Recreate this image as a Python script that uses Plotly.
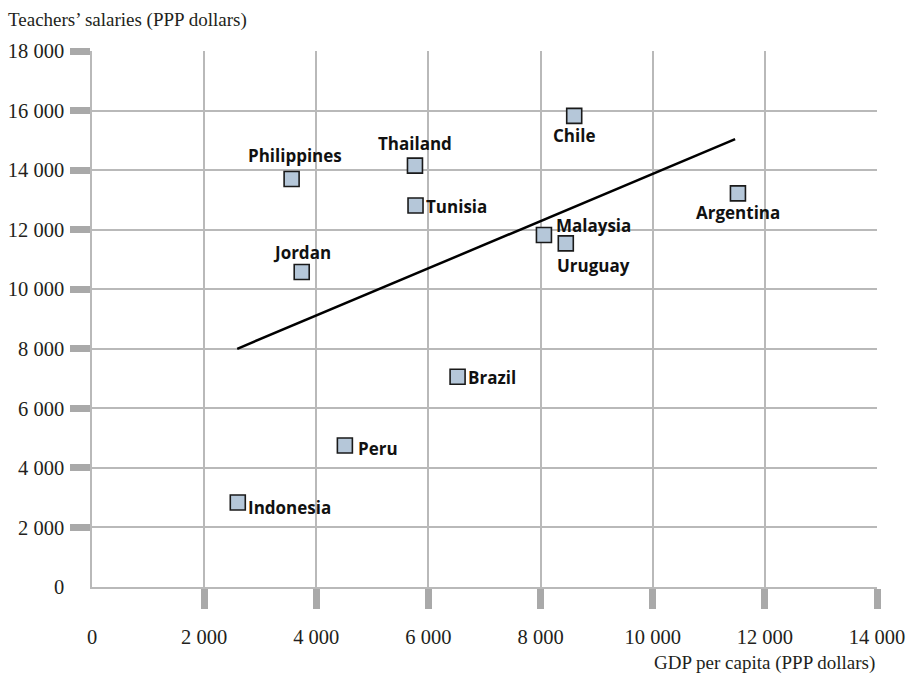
import plotly.graph_objects as go

# ---- data ----
countries = ["Philippines", "Thailand", "Tunisia", "Jordan", "Chile", "Argentina",
             "Malaysia", "Uruguay", "Brazil", "Peru", "Indonesia"]
gdp_per_capita = [3560, 5760, 5770, 3740, 8600, 11520, 8060, 8450, 6520, 4510, 2600]
teacher_salary = [13700, 14150, 12810, 10580, 15820, 13220, 11820, 11540, 7060, 4750, 2840]

trend_gdp = [2590, 11470]
trend_salary = [8000, 15040]

x_tick_vals = [0, 2000, 4000, 6000, 8000, 10000, 12000, 14000]
x_tick_text = ["0", "2 000", "4 000", "6 000", "8 000", "10 000", "12 000", "14 000"]
y_tick_vals = [0, 2000, 4000, 6000, 8000, 10000, 12000, 14000, 16000, 18000]
y_tick_text = ["0", "2 000", "4 000", "6 000", "8 000", "10 000", "12 000", "14 000", "16 000", "18 000"]

# label placement style: (xanchor, xshift, yshift)
label_style = {
    "Philippines": ("center", 3, 24),
    "Thailand": ("center", 0, 22),
    "Tunisia": ("left", 9, -1),
    "Jordan": ("center", 0, 19),
    "Chile": ("center", 0, -20),
    "Argentina": ("center", 0, -19),
    "Malaysia": ("left", 11, 10),
    "Uruguay": ("left", -10, -22),
    "Brazil": ("left", 9, -1),
    "Peru": ("left", 12, -3),
    "Indonesia": ("left", 9, -5),
}

TEXT = "#231f20"
GRID = "#b9b9b9"
TICK = "#a9a9a9"
SERIF = "Liberation Serif"

fig = go.Figure()
fig.add_trace(go.Scatter(
    x=trend_gdp, y=trend_salary, mode="lines",
    line=dict(color="black", width=2.5), showlegend=False, hoverinfo="skip"))
fig.add_trace(go.Scatter(
    x=gdp_per_capita, y=teacher_salary, mode="markers", text=countries,
    marker=dict(symbol="square", size=15, color="#b5c7d9",
                line=dict(color="#1a1a1a", width=1.6)),
    showlegend=False))

for name, gx, sy in zip(countries, gdp_per_capita, teacher_salary):
    xa, xs, ys = label_style[name]
    fig.add_annotation(x=gx, y=sy, text="<b>" + name + "</b>", showarrow=False,
                       xanchor=xa, yanchor="middle", xshift=xs, yshift=ys,
                       font=dict(family="Open Sans", size=17, color="#111"),
                       borderpad=0)

fig.add_annotation(xref="paper", yref="paper", x=-86/785, y=1 + 31/536,
                   text="Teachers’ salaries (PPP dollars)", showarrow=False,
                   xanchor="left", yanchor="middle",
                   font=dict(family=SERIF, size=19, color=TEXT))
fig.add_annotation(xref="paper", yref="paper", x=1, y=-76/536,
                   text="GDP per capita (PPP dollars)", showarrow=False,
                   xanchor="right", yanchor="middle",
                   font=dict(family=SERIF, size=19, color=TEXT))

fig.update_layout(
    width=910, height=685,
    margin=dict(l=92, r=33, t=51, b=98, autoexpand=False),
    paper_bgcolor="white", plot_bgcolor="white",
    xaxis=dict(range=[0, 14000], tickmode="array", tickvals=x_tick_vals, ticktext=x_tick_text,
               ticks="", showgrid=True, gridcolor=GRID, gridwidth=1.5, automargin=False,
               showline=True, linecolor=GRID, linewidth=1.5, zeroline=False,
               ticklabelstandoff=31,
               tickfont=dict(family=SERIF, size=20.5, color=TEXT),
               minor=dict(tickmode="array", tickvals=x_tick_vals[1:], ticks="outside",
                          ticklen=20, tickwidth=7, tickcolor=TICK, showgrid=False)),
    yaxis=dict(range=[0, 18000], tickmode="array", tickvals=y_tick_vals, ticktext=y_tick_text,
               ticks="", showgrid=True, gridcolor=GRID, gridwidth=1.5, automargin=False,
               showline=True, linecolor=GRID, linewidth=1.5, zeroline=False,
               ticklabelstandoff=22,
               tickfont=dict(family=SERIF, size=20.5, color=TEXT),
               minor=dict(tickmode="array", tickvals=y_tick_vals[1:], ticks="outside",
                          ticklen=20, tickwidth=7, tickcolor=TICK, showgrid=False)),
)

fig.write_html("out.html", config={"displayModeBar": False},
               post_script="document.body.style.margin='0';document.body.style.padding='0';")
